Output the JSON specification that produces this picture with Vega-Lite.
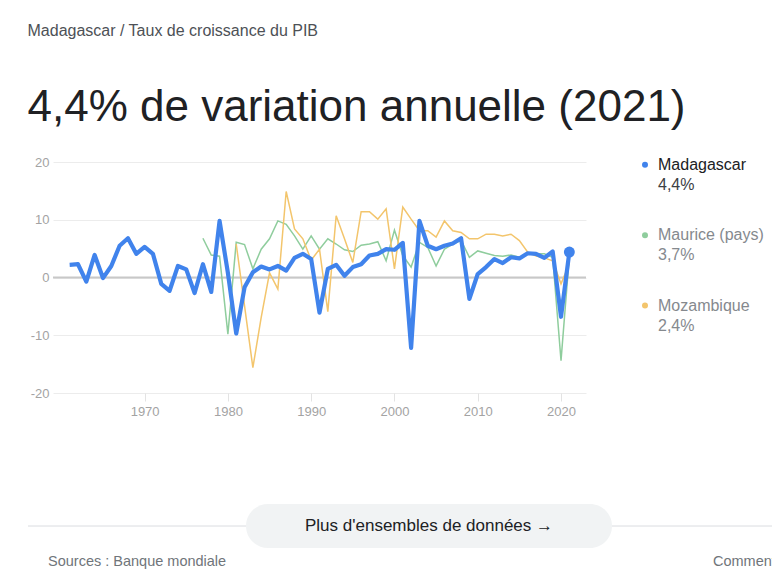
{
  "$schema": "https://vega.github.io/schema/vega-lite/v6.json",
  "background": "white",
  "padding": {"left": 27, "top": 23, "right": 0, "bottom": 0},
  "config": {
    "font": "Liberation Sans",
    "view": {"stroke": null, "fill": "white"},
    "axis": {"title": null}
  },
  "title": {
    "text": "Madagascar / Taux de croissance du PIB",
    "subtitle": "4,4% de variation annuelle (2021)",
    "anchor": "start",
    "frame": "bounds",
    "font": "Liberation Sans",
    "fontSize": 16,
    "fontWeight": "normal",
    "color": "#4d5156",
    "subtitleFont": "Liberation Sans",
    "subtitleFontSize": 44,
    "subtitleColor": "#202124",
    "subtitlePadding": 47,
    "offset": 26
  },
  "datasets": {
    "gdp": [
      {"year": 1961, "MDG": 2.2}, {"year": 1962, "MDG": 2.3}, {"year": 1963, "MDG": -0.7}, {"year": 1964, "MDG": 3.9}, {"year": 1965, "MDG": -0.1},
      {"year": 1966, "MDG": 2.0}, {"year": 1967, "MDG": 5.5}, {"year": 1968, "MDG": 6.8}, {"year": 1969, "MDG": 4.1}, {"year": 1970, "MDG": 5.3},
      {"year": 1971, "MDG": 4.1}, {"year": 1972, "MDG": -1.1}, {"year": 1973, "MDG": -2.3}, {"year": 1974, "MDG": 2.0}, {"year": 1975, "MDG": 1.4},
      {"year": 1976, "MDG": -2.7}, {"year": 1977, "MDG": 2.3, "MUS": 6.8}, {"year": 1978, "MDG": -2.5, "MUS": 3.9}, {"year": 1979, "MDG": 9.8, "MUS": 3.7}, {"year": 1980, "MDG": 0.8, "MUS": -9.8},
      {"year": 1981, "MDG": -9.7, "MUS": 6.1, "MOZ": 5.8}, {"year": 1982, "MDG": -1.7, "MUS": 5.7, "MOZ": -4.9}, {"year": 1983, "MDG": 0.9, "MUS": 1.5, "MOZ": -15.6}, {"year": 1984, "MDG": 1.9, "MUS": 4.9, "MOZ": -6.9}, {"year": 1985, "MDG": 1.4, "MUS": 6.7, "MOZ": 0.8},
      {"year": 1986, "MDG": 2.0, "MUS": 9.8, "MOZ": -2.0}, {"year": 1987, "MDG": 1.2, "MUS": 9.2, "MOZ": 14.9}, {"year": 1988, "MDG": 3.4, "MUS": 7.2, "MOZ": 8.4}, {"year": 1989, "MDG": 4.1, "MUS": 4.9, "MOZ": 6.7}, {"year": 1990, "MDG": 3.2, "MUS": 7.2, "MOZ": 3.0},
      {"year": 1991, "MDG": -6.1, "MUS": 4.9, "MOZ": 4.9}, {"year": 1992, "MDG": 1.5, "MUS": 6.7, "MOZ": -5.9}, {"year": 1993, "MDG": 2.2, "MUS": 5.8, "MOZ": 10.7}, {"year": 1994, "MDG": 0.3, "MUS": 4.8, "MOZ": 6.7}, {"year": 1995, "MDG": 1.8, "MUS": 4.5, "MOZ": 2.6},
      {"year": 1996, "MDG": 2.3, "MUS": 5.6, "MOZ": 11.4}, {"year": 1997, "MDG": 3.8, "MUS": 5.8, "MOZ": 11.4}, {"year": 1998, "MDG": 4.1, "MUS": 6.2, "MOZ": 10.1}, {"year": 1999, "MDG": 4.9, "MUS": 2.9, "MOZ": 11.9}, {"year": 2000, "MDG": 4.8, "MUS": 8.2, "MOZ": 1.5},
      {"year": 2001, "MDG": 6.0, "MUS": 3.8, "MOZ": 12.2}, {"year": 2002, "MDG": -12.2, "MUS": 1.8, "MOZ": 10.1}, {"year": 2003, "MDG": 9.8, "MUS": 6.1, "MOZ": 8.1}, {"year": 2004, "MDG": 5.5, "MUS": 5.2, "MOZ": 8.1}, {"year": 2005, "MDG": 4.9, "MUS": 2.0, "MOZ": 7.0},
      {"year": 2006, "MDG": 5.5, "MUS": 4.9, "MOZ": 9.8}, {"year": 2007, "MDG": 5.9, "MUS": 5.8, "MOZ": 8.1}, {"year": 2008, "MDG": 6.8, "MUS": 6.4, "MOZ": 7.8}, {"year": 2009, "MDG": -3.7, "MUS": 3.5, "MOZ": 6.7}, {"year": 2010, "MDG": 0.6, "MUS": 4.6, "MOZ": 6.7},
      {"year": 2011, "MDG": 1.8, "MUS": 4.2, "MOZ": 7.5}, {"year": 2012, "MDG": 3.2, "MUS": 3.8, "MOZ": 7.5}, {"year": 2013, "MDG": 2.5, "MUS": 3.7, "MOZ": 7.2}, {"year": 2014, "MDG": 3.5, "MUS": 3.9, "MOZ": 7.5}, {"year": 2015, "MDG": 3.3, "MUS": 3.5, "MOZ": 6.4},
      {"year": 2016, "MDG": 4.2, "MUS": 4.1, "MOZ": 4.4}, {"year": 2017, "MDG": 4.1, "MUS": 4.1, "MOZ": 3.7}, {"year": 2018, "MDG": 3.4, "MUS": 4.1, "MOZ": 3.4}, {"year": 2019, "MDG": 4.5, "MUS": 3.5, "MOZ": 2.9}, {"year": 2020, "MDG": -6.8, "MUS": -14.4, "MOZ": -1.1},
      {"year": 2021, "MDG": 4.4, "MUS": 3.7, "MOZ": 2.4}
    ],
    "legend": [
      {"c": "MDG", "name": "Madagascar", "val": "4,4%"},
      {"c": "MUS", "name": "Maurice (pays)", "val": "3,7%"},
      {"c": "MOZ", "name": "Mozambique", "val": "2,4%"}
    ],
    "footer": [
      {"button": "Plus d'ensembles de données →", "source": "Sources : Banque mondiale", "feedback": "Commentaires"}
    ]
  },
  "vconcat": [
    {
      "hconcat": [
        {
          "width": 533,
          "height": 231,
          "data": {"name": "gdp"},
          "transform": [
            {"fold": ["MDG", "MUS", "MOZ"], "as": ["c", "v"]},
            {"filter": "isValid(datum.v)"}
          ],
          "layer": [
            {
              "data": {"values": [{"zero": 0}]},
              "transform": [],
              "mark": {"type": "rule", "color": "#c8c8c8", "strokeWidth": 2},
              "encoding": {
                "y": {"field": "zero", "type": "quantitative", "scale": {"domain": [-20, 20], "nice": false}}
              }
            },
            {
              "transform": [{"filter": "datum.c != 'MDG'"}],
              "mark": {"type": "line", "strokeWidth": 1.5, "interpolate": "linear"},
              "encoding": {
                "x": {
                  "field": "year", "type": "quantitative",
                  "scale": {"domain": [1959, 2023], "nice": false, "zero": false},
                  "axis": {
                    "values": [1970, 1980, 1990, 2000, 2010, 2020], "format": "d",
                    "domain": false, "grid": false, "ticks": true, "tickColor": "#e3e3e3", "tickSize": 8,
                    "labelColor": "#a3a3a3", "labelFontSize": 13, "labelPadding": 4
                  }
                },
                "y": {
                  "field": "v", "type": "quantitative",
                  "scale": {"domain": [-20, 20], "nice": false},
                  "axis": {
                    "values": [-20, -10, 0, 10, 20], "domain": false, "ticks": false, "grid": true,
                    "labelExpr": "datum.value < 0 ? '-' + abs(datum.value) : '' + datum.value",
                    "gridColor": "#ececec", "labelColor": "#a3a3a3", "labelFontSize": 13, "labelPadding": 4,
                    "minExtent": 25, "maxExtent": 25
                  }
                },
                "color": {
                  "field": "c", "type": "nominal",
                  "scale": {"domain": ["MDG", "MUS", "MOZ"], "range": ["#4083ec", "#8fcd9d", "#f3c56c"]},
                  "legend": null
                }
              }
            },
            {
              "transform": [{"filter": "datum.c == 'MDG'"}],
              "mark": {"type": "line", "strokeWidth": 4.2, "strokeJoin": "round"},
              "encoding": {
                "x": {"field": "year", "type": "quantitative"},
                "y": {"field": "v", "type": "quantitative"},
                "color": {"field": "c", "type": "nominal", "legend": null}
              }
            },
            {
              "transform": [{"filter": "datum.c == 'MDG' && datum.year == 2021"}],
              "mark": {"type": "circle", "size": 120, "opacity": 1},
              "encoding": {
                "x": {"field": "year", "type": "quantitative"},
                "y": {"field": "v", "type": "quantitative"},
                "color": {"field": "c", "type": "nominal", "legend": null}
              }
            }
          ]
        },
        {
          "width": 118,
          "height": 231,
          "data": {"name": "legend"},
          "encoding": {
            "y": {
              "field": "c", "type": "nominal",
              "scale": {"type": "point", "domain": ["MDG", "MUS", "MOZ"], "padding": 0.64, "align": 0.03},
              "axis": null
            },
            "x": {"datum": 0, "type": "quantitative", "scale": {"domain": [0, 1]}, "axis": null}
          },
          "layer": [
            {
              "mark": {"type": "circle", "size": 36, "opacity": 1},
              "encoding": {"color": {"field": "c", "type": "nominal", "legend": null}}
            },
            {
              "mark": {"type": "text", "align": "left", "baseline": "middle", "dx": 13, "fontSize": 16},
              "encoding": {
                "text": {"field": "name"},
                "color": {"condition": {"test": "datum.c == 'MDG'", "value": "#202124"}, "value": "#85898e"}
              }
            },
            {
              "mark": {"type": "text", "align": "left", "baseline": "middle", "dx": 13, "dy": 20, "fontSize": 16},
              "encoding": {
                "text": {"field": "val"},
                "color": {"condition": {"test": "datum.c == 'MDG'", "value": "#3c4043"}, "value": "#85898e"}
              }
            }
          ]
        }
      ],
      "spacing": 55
    },
    {
      "width": 720,
      "height": 66,
      "data": {"name": "footer"},
      "encoding": {},
      "layer": [
        {
          "mark": {"type": "rule", "color": "#dadce0", "strokeWidth": 1},
          "encoding": {
            "x": {"datum": -25, "type": "quantitative", "scale": {"domain": [0, 720], "nice": false, "zero": false}, "axis": null},
            "x2": {"datum": 720},
            "y": {"datum": 25, "type": "quantitative", "scale": {"domain": [0, 66], "reverse": true, "nice": false}, "axis": null}
          }
        },
        {
          "mark": {"type": "rect", "color": "#f1f3f4", "cornerRadius": 22},
          "encoding": {
            "x": {"datum": 193, "type": "quantitative"},
            "x2": {"datum": 559},
            "y": {"datum": 3, "type": "quantitative"},
            "y2": {"datum": 47}
          }
        },
        {
          "mark": {"type": "text", "align": "center", "baseline": "middle", "fontSize": 17, "color": "#202124"},
          "encoding": {
            "x": {"datum": 376, "type": "quantitative"},
            "y": {"datum": 25, "type": "quantitative"},
            "text": {"field": "button"}
          }
        },
        {
          "mark": {"type": "text", "align": "left", "baseline": "middle", "fontSize": 14.5, "color": "#70757a"},
          "encoding": {
            "x": {"datum": -5, "type": "quantitative"},
            "y": {"datum": 61, "type": "quantitative"},
            "text": {"field": "source"}
          }
        },
        {
          "mark": {"type": "text", "align": "left", "baseline": "middle", "fontSize": 14.5, "color": "#70757a", "clip": true},
          "encoding": {
            "x": {"datum": 660, "type": "quantitative"},
            "y": {"datum": 61, "type": "quantitative"},
            "text": {"field": "feedback"}
          }
        }
      ]
    }
  ],
  "spacing": 83
}
